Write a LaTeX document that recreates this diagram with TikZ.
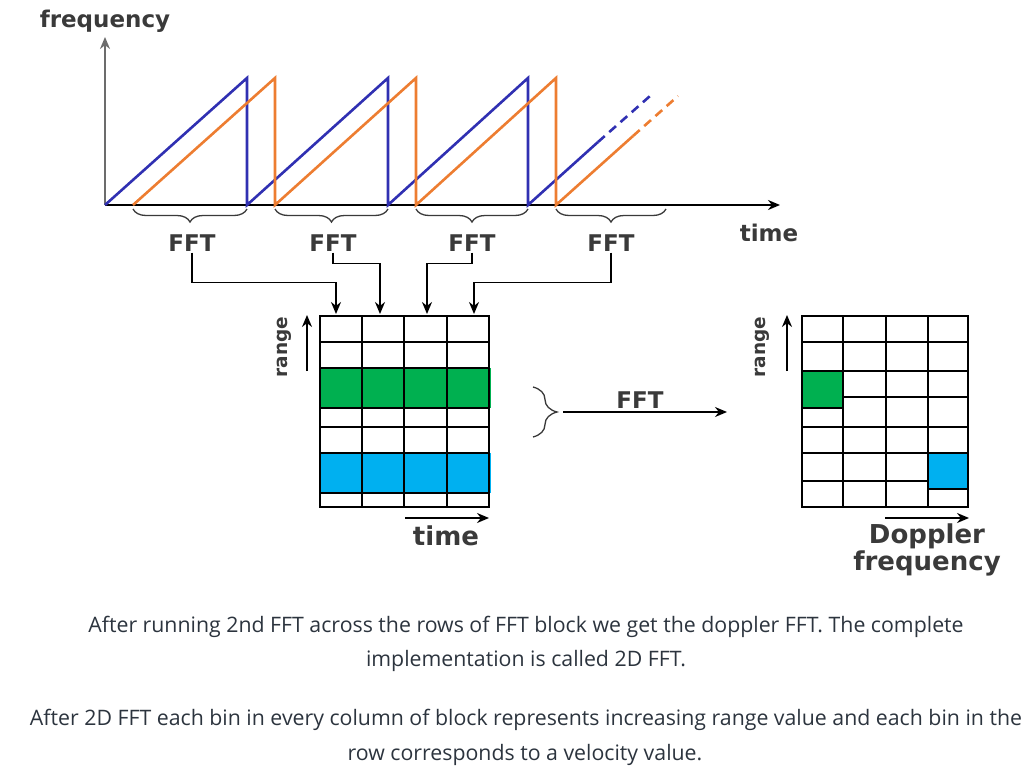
\documentclass[tikz,border=0pt]{standalone}
\usepackage{fontspec}
\setmainfont{DejaVu Sans}
\newfontfamily\capfont{Open Sans}
\usetikzlibrary{decorations.pathreplacing, arrows.meta}
\tikzset{>={Stealth[length=12pt, width=10pt]}}
\definecolor{rampblue}{RGB}{48,48,178}
\definecolor{ramporange}{RGB}{237,125,49}
\definecolor{bingreen}{RGB}{0,176,80}
\definecolor{binblue}{RGB}{0,176,240}
\definecolor{labelgray}{RGB}{58,58,58}
\definecolor{captext}{RGB}{44,52,62}
\tikzset{
  lbl/.style={font=\bfseries\fontsize{23}{26}\selectfont, text=labelgray, inner sep=1pt},
  rnglbl/.style={font=\bfseries\fontsize{18.5}{22}\selectfont, text=labelgray, inner sep=1pt, rotate=90},
  biglbl/.style={font=\bfseries\fontsize{26}{27}\selectfont, text=labelgray, inner sep=1pt, align=center},
  caption/.style={font=\capfont\fontsize{21.3}{25}\selectfont, text=captext, inner sep=0pt},
  ramp/.style={line width=2.6pt, line join=miter},
  dashramp/.style={line width=2.6pt, dash pattern=on 9pt off 6pt},
  fftbrace/.style={decorate, decoration={brace, amplitude=13pt}, line width=1.3pt, labelgray},
  conn/.style={line width=1.5pt, ->},
  gridline/.style={line width=1.8pt},
}

\begin{document}
\begin{tikzpicture}[x=1pt,y=-1pt]
\useasboundingbox (0,0) rectangle (1036,774);
% chirp axes
\coordinate (o) at (105,205);
\draw[-{Stealth[length=12pt, width=10pt, fill=black]}, line width=2.4pt, gray!85!black] (o) -- (105,37);
\node[lbl] (freq) at (105,21) {frequency};
\draw[->, line width=1.8pt] (o) -- (780,205);
\node[lbl] (time) at (769,233) {time};
% transmitted / received ramps
\draw[rampblue, ramp] (105,205) -- (247,78) -- (247,205) -- (388,78) -- (388,205) -- (528,78) -- (528,205) -- (598,142);
\draw[rampblue, dashramp] (598,142) -- (650,96);
\draw[ramporange, ramp] (133,205) -- (275,78) -- (275,205) -- (416,78) -- (416,205) -- (556,78) -- (556,205) -- (633,136);
\draw[ramporange, dashramp] (633,136) -- (678,96);
% one FFT per chirp
\draw[fftbrace] (247,209) -- (133,209);
\draw[fftbrace] (388,209) -- (275,209);
\draw[fftbrace] (528,209) -- (416,209);
\draw[fftbrace] (666,209) -- (556,209);
\node[lbl] (fft1) at (192,243) {FFT};
\node[lbl] (fft2) at (333,243) {FFT};
\node[lbl] (fft3) at (472,243) {FFT};
\node[lbl] (fft4) at (611,243) {FFT};
\coordinate (in1) at (336,314);
\coordinate (in2) at (380,314);
\coordinate (in3) at (427,314);
\coordinate (in4) at (474,314);
\draw[conn] (fft1.south) -- ++(0,30) -| (in1);
\draw[conn] (fft2.south) -- ++(0,11) -| (in2);
\draw[conn] (fft3.south) -- ++(0,11) -| (in3);
\draw[conn] (fft4.south) -- ++(0,30) -| (in4);
% range-time block
\fill[bingreen] (321,368) rectangle (491,408);
\fill[binblue] (321,453) rectangle (491,493);
\draw[gridline] (320,316) rectangle (489,507);
\draw[gridline] (362,316) -- (362,507) (404,316) -- (404,507) (447,316) -- (447,507);
\draw[gridline] (320,342) -- (489,342) (320,368) -- (489,368) (320,408) -- (489,408)
  (320,427) -- (489,427) (320,453) -- (489,453) (320,493) -- (489,493);
\node[rnglbl] (rng1) at (284,347) {range};
\draw[->, line width=1.8pt] (307,371) -- (307,315);
\draw[->, line width=1.8pt] (405,518) -- (489,518);
\node[biglbl] (time2) at (446,536) {time};
% second FFT
\draw[decorate, decoration={brace, amplitude=24pt}, line width=1.3pt, labelgray] (533,387) -- (533,437);
\coordinate (tip) at (563,412);
\coordinate (out) at (727,412);
\draw[line width=1.5pt, ->] (tip) -- (out);
\node[lbl] (fft5) at (640,400) {FFT};
% range-doppler block
\fill[bingreen] (802,371) rectangle (843,408);
\fill[binblue] (928,453) rectangle (968,489);
\draw[gridline] (802,316) rectangle (968,507);
\draw[gridline] (843,316) -- (843,507) (886,316) -- (886,507) (928,316) -- (928,507);
\draw[gridline] (802,342) -- (968,342) (802,371) -- (968,371) (843,397) -- (968,397)
  (802,408) -- (843,408) (802,427) -- (968,427) (802,453) -- (968,453)
  (802,481) -- (928,481) (928,489) -- (968,489);
\node[rnglbl] (rng2) at (762,347) {range};
\draw[->, line width=1.8pt] (787,371) -- (787,315);
\draw[->, line width=1.8pt] (885,518) -- (969,518);
\node[biglbl] (dop) at (927,550) {Doppler\\frequency};
% caption
\node[caption] (cap1) at (526,627) {After running 2nd FFT across the rows of FFT block we get the doppler FFT. The complete};
\node[caption] (cap2) at (526,661) {implementation is called 2D FFT.};
\node[caption] (cap3) at (526,720) {After 2D FFT each bin in every column of block represents increasing range value and each bin in the};
\node[caption] (cap4) at (525,755) {row corresponds to a velocity value.};
\end{tikzpicture}
\end{document}
